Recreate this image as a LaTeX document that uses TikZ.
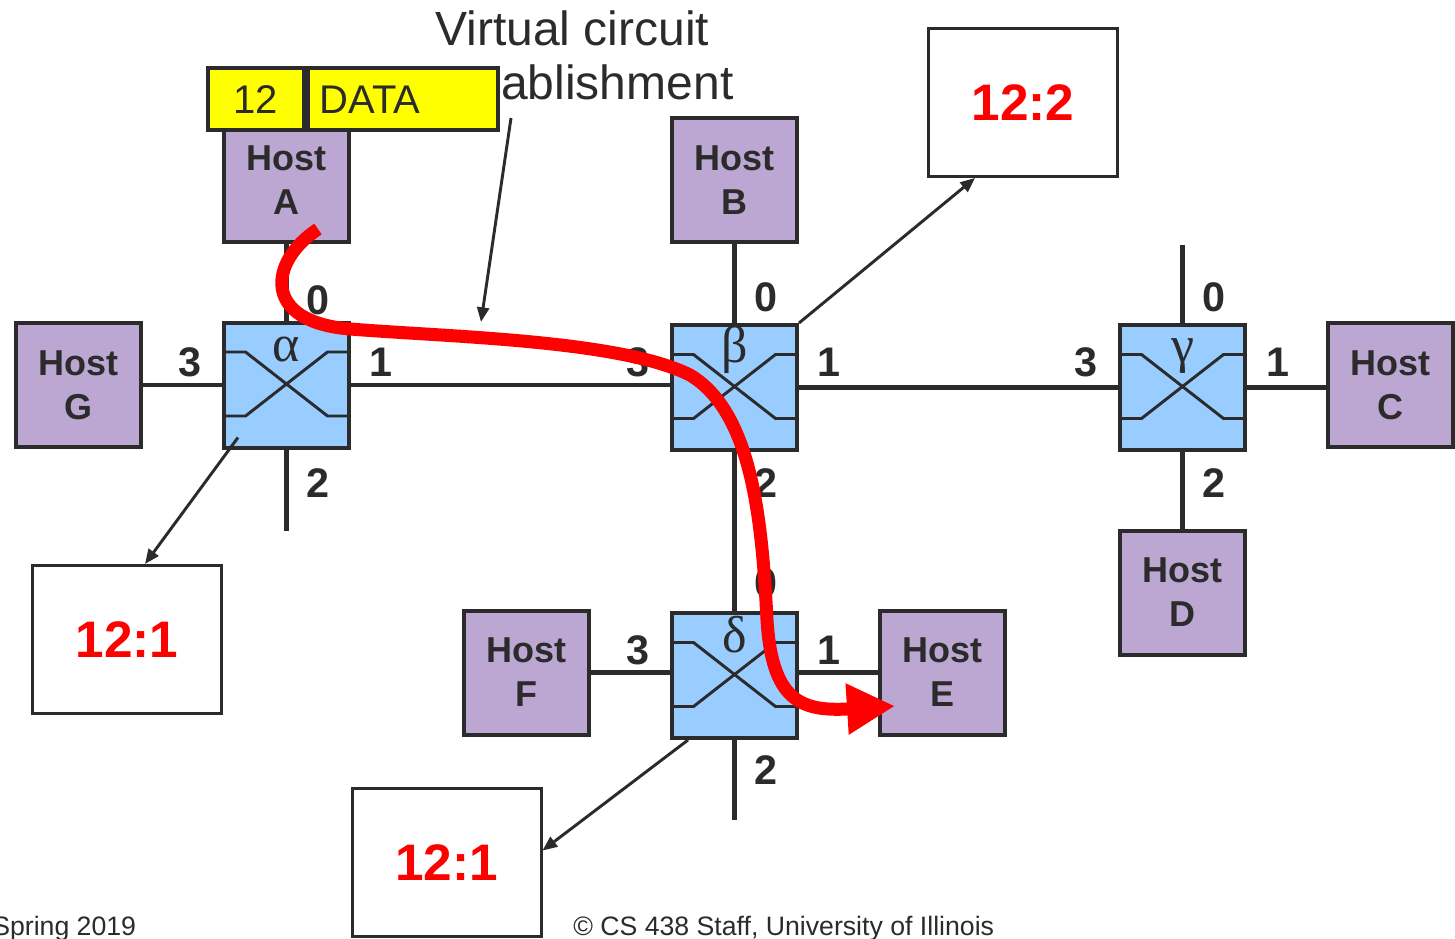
\documentclass[tikz,border=0pt]{standalone}
\usepackage{fontspec}
\setmainfont{Liberation Sans}
\newfontfamily\grk{Liberation Serif}
\usetikzlibrary{arrows.meta,calc}
\definecolor{ink}{HTML}{2B2B2B}
\definecolor{swblue}{HTML}{99CCFF}
\definecolor{hostpurple}{HTML}{BBA7D2}
\definecolor{pktyellow}{HTML}{FFFF00}
\definecolor{vcred}{HTML}{FF0000}
\tikzset{
  switchbox/.style={draw=ink, fill=swblue, line width=3pt, minimum width=93.75pt, minimum height=93.75pt, inner sep=0pt},
  hostbox/.style={draw=ink, fill=hostpurple, line width=3pt, minimum width=93.75pt, minimum height=93pt, inner sep=0pt, align=center, font=\fontsize{27}{33}\selectfont\bfseries, text=ink},
  portline/.style={draw=ink, line width=3.5pt},
  xline/.style={draw=ink, line width=2.2pt},
  portlbl/.style={font=\fontsize{31}{31}\selectfont\bfseries, text=ink, inner sep=0pt},
  grklbl/.style={font=\grk\fontsize{39}{39}\selectfont, text=ink, inner sep=0pt, anchor=base},
  tablebox/.style={draw=ink, fill=white, line width=2.25pt, minimum width=141.75pt, minimum height=111pt, inner sep=0pt, font=\fontsize{38.5}{40}\selectfont\bfseries, text=vcred},
  note/.style={draw=ink, line width=2.2pt, -{Triangle[length=11pt,width=9pt]}},
  pkt/.style={draw=ink, fill=pktyellow, line width=3pt, minimum height=46.5pt, inner ysep=0pt, font=\fontsize{30}{30}\selectfont, text=ink},
  caption/.style={font=\fontsize{36}{36}\selectfont, text=ink, inner sep=0pt, anchor=base west},
  footer/.style={font=\fontsize{20}{20}\selectfont, text=ink, inner sep=0pt, anchor=base west},
  vcpath/.style={draw=vcred, line width=9.75pt, -{Triangle[length=36pt,width=36pt]}}
}
\begin{document}
\begin{tikzpicture}[x=0.75pt,y=-0.75pt]
\useasboundingbox (0,0) rectangle (1455,938);

% switches
\node[switchbox] (alpha) at (286.5,385) {};
\node[switchbox] (beta)  at (734.5,387.5) {};
\node[switchbox] (gamma) at (1182.5,387.5) {};
\node[switchbox] (delta) at (734.5,675.5) {};

% hosts
\node[hostbox] (hA) at (286.5,180) {Host\\A};
\node[hostbox] (hB) at (734.5,180) {Host\\B};
\node[hostbox] (hG) at (78.5,385) {Host\\G};
\node[hostbox] (hC) at (1390.5,385) {Host\\C};
\node[hostbox] (hD) at (1182.5,592.5) {Host\\D};
\node[hostbox] (hF) at (526.5,672.5) {Host\\F};
\node[hostbox] (hE) at (942.5,672.5) {Host\\E};

% free port ends
\coordinate (aS) at (286.5,531);
\coordinate (gN) at (1182.5,245);
\coordinate (dS) at (734.5,820);

% port lines
\draw[portline] (hA.south) -- (alpha.north);
\draw[portline] (hG.east) -- (alpha.west);
\draw[portline] (alpha.east) -- (alpha.east -| beta.west);
\draw[portline] (alpha.south) -- (aS);
\draw[portline] (hB.south) -- (beta.north);
\draw[portline] (beta.east) -- (gamma.west);
\draw[portline] (beta.south) -- (delta.north);
\draw[portline] (gamma.north) -- (gN);
\draw[portline] (gamma.east) -- (gamma.east -| hC.west);
\draw[portline] (gamma.south) -- (hD.north);
\draw[portline] (hF.east) -- (hF.east -| delta.west);
\draw[portline] (hE.west -| delta.east) -- (hE.west);
\draw[portline] (delta.south) -- (dS);

% switch crossings
\foreach \s in {alpha,beta,gamma,delta}{
  \draw[xline] ($(\s.center)+(-62,-33)$) -- ++(21,0) -- ($(\s.center)+(41,31)$) -- ++(21,0);
  \draw[xline] ($(\s.center)+(62,-33)$) -- ++(-21,0) -- ($(\s.center)+(-41,31)$) -- ++(-21,0);
}
\node[grklbl] (galpha) at ($(alpha.center)+(0,-24)$) {α};
\node[grklbl] (gbeta)  at ($(beta.center)+(0,-25)$) {β};
\node[grklbl] (ggamma) at ($(gamma.center)+(0,-25)$) {γ};
\node[grklbl] (gdelta) at ($(delta.center)+(0,-23.5)$) {δ};

% port labels
\node[portlbl] (pa0) at (318,300) {0};
\node[portlbl] (pa3) at (190,362) {3};
\node[portlbl] (pa1) at (381,362) {1};
\node[portlbl] (pa2) at (318,483) {2};
\node[portlbl] (pb0) at (766,297) {0};
\node[portlbl] (pb3) at (638,362) {3};
\node[portlbl] (pb1) at (829,362) {1};
\node[portlbl] (pb2) at (766,483) {2};
\node[portlbl] (pg0) at (1214,297) {0};
\node[portlbl] (pg3) at (1086,362) {3};
\node[portlbl] (pg1) at (1278,362) {1};
\node[portlbl] (pg2) at (1214,483) {2};
\node[portlbl] (pd0) at (766,583) {0};
\node[portlbl] (pd3) at (638,650) {3};
\node[portlbl] (pd1) at (829,650) {1};
\node[portlbl] (pd2) at (766,770) {2};

% VC tables
\node[tablebox] (t22) at (1023,102.5) {12:2};
\node[tablebox] (t1a) at (127,639.5) {12:1};
\node[tablebox] (t1b) at (446.5,862.5) {12:1};

\draw[note] (beta.north east) -- ($(t22.south west)+(48,0)$);
\draw[note] ($(alpha.south west)+(16,-12)$) -- ($(t1a.north)+(18,0)$);
\draw[note] ($(delta.south west)+(18,0)$) -- ($(t1b.east)+(0,-12)$);

% caption
\node[caption] (cap1) at (435,46) {Virtual circuit};
\node[caption] (cap2) at (437,100) {establishment};
\coordinate (capend) at (481,322);
\draw[note] ($(cap2.base west)+(74,18)$) -- (capend);

% packet
\node[pkt, minimum width=72pt, inner xsep=0pt] (p12) at (255.5,99.5) {12};
\node[pkt, text width=124.5pt, inner xsep=9pt, align=left, anchor=west] (pdata) at (p12.east) {DATA};

% red path
\draw[vcpath] (318,229) .. controls (268,262) and (262,322) .. (350,329)
  .. controls (450,337) and (620,340) .. (690,375)
  .. controls (752,412) and (762,520) .. (767,620)
  .. controls (772,700) and (800,712) .. (895,706);

% footer
\node[footer] (f1) at (-8,935) {Spring 2019};
\node[footer] (f2) at (573,935) {© CS 438 Staff, University of Illinois};
\end{tikzpicture}
\end{document}
